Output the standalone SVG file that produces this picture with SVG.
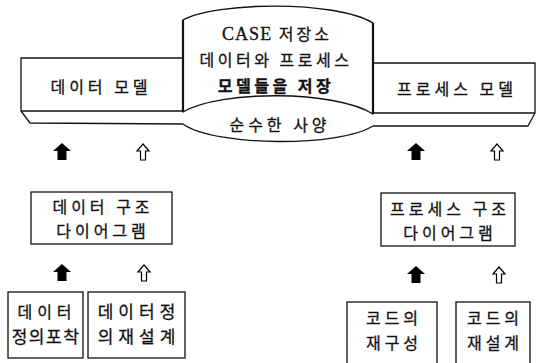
<svg xmlns="http://www.w3.org/2000/svg" width="544" height="363" viewBox="0 0 544 363">
<style>
.ln{fill:none;stroke:#111;stroke-width:1.3;stroke-linejoin:round}
.bx{fill:#fff;stroke:#111;stroke-width:1.3}
.t{font-family:"Noto Sans CJK KR","Noto Sans",sans-serif;font-size:16px;fill:#111;stroke:#111;stroke-width:0.3;text-anchor:middle;letter-spacing:4px}
.s{font-family:"Liberation Serif",serif;font-size:18px;letter-spacing:1px}
.fa{fill:#000}
.ha{fill:#fff;stroke:#000;stroke-width:1.2;stroke-linejoin:miter}
</style>
<defs>
<path id="fill" d="M0,0 L9,8 L4.5,8 L4.5,17 L-4.5,17 L-4.5,8 L-9,8 Z"/>
<path id="hol" d="M0,0 L6,7 L2.5,7 L2.5,16 L-2.5,16 L-2.5,7 L-6,7 Z"/>
</defs>
<rect width="544" height="363" fill="#fff"/>

<g id="data-model">
<path class="ln" d="M183,58 L21,58 L21,111 L183,111"/>
<path class="ln" d="M21,111 L30,123 L183,124"/>
<text class="t" x="101" y="93">데이터 모델</text>
</g>

<g id="process-model">
<path class="ln" d="M373,63 L535,63 L535,113 L373,113"/>
<path class="ln" d="M373,126 L528,126 L535,113"/>
<text class="t" x="457" y="95">프로세스 모델</text>
</g>

<g id="case-repository">
<path class="ln" d="M183,20 C215,2 335,0 373,23 L373,114 C335,90 220,90 183,112 Z" style="stroke-width:1.4"/>
<path class="ln" d="M183,20 L183,112 M373,23 L373,114" style="stroke-width:2.2"/>
<path class="ln" d="M183,124 C215,147 340,147 373,126"/>
<text class="t" x="277" y="40" style="letter-spacing:3px"><tspan class="s">CASE</tspan> 저장소</text>
<text class="t" x="276" y="66" style="letter-spacing:3.5px">데이터와 프로세스</text>
<text class="t" x="276" y="92" style="font-weight:bold;letter-spacing:3.5px">모델들을 저장</text>
<text class="t" x="280" y="131">순수한 사양</text>
</g>

<g id="data-structure-diagram">
<rect class="bx" x="31" y="192" width="141" height="52"/>
<text class="t" x="103" y="213">데이터 구조</text>
<text class="t" x="103" y="237">다이어그램</text>
</g>

<g id="process-structure-diagram">
<rect class="bx" x="381" y="193" width="134" height="53"/>
<text class="t" x="450" y="215">프로세스 구조</text>
<text class="t" x="450" y="239">다이어그램</text>
</g>

<g id="data-capture">
<rect class="bx" x="8" y="292" width="75" height="66"/>
<text class="t" x="47" y="318" style="letter-spacing:5px">데이터</text>
<text class="t" x="46" y="343" style="letter-spacing:1.5px;font-size:17px">정의포착</text>
</g>

<g id="data-redesign">
<rect class="bx" x="88" y="292" width="97" height="66"/>
<text class="t" x="139" y="318" style="letter-spacing:5px;font-size:17px">데이터정</text>
<text class="t" x="139" y="343" style="letter-spacing:5px;font-size:17px">의재설계</text>
</g>

<g id="code-restructure">
<rect class="bx" x="347" y="302" width="90" height="62"/>
<text class="t" x="394" y="324">코드의</text>
<text class="t" x="394" y="349">재구성</text>
</g>

<g id="code-redesign">
<rect class="bx" x="456" y="302" width="74" height="62"/>
<text class="t" x="495" y="324">코드의</text>
<text class="t" x="495" y="349">재설계</text>
</g>

<g id="connectors">
<use href="#fill" class="fa" x="62" y="143"/>
<use href="#hol" class="ha" x="143" y="144"/>
<use href="#fill" class="fa" x="416" y="143"/>
<use href="#hol" class="ha" x="497" y="144"/>
<use href="#fill" class="fa" x="62" y="264"/>
<use href="#hol" class="ha" x="144" y="265"/>
<use href="#fill" class="fa" x="416" y="266"/>
<use href="#hol" class="ha" x="499" y="267"/>
</g>
</svg>
